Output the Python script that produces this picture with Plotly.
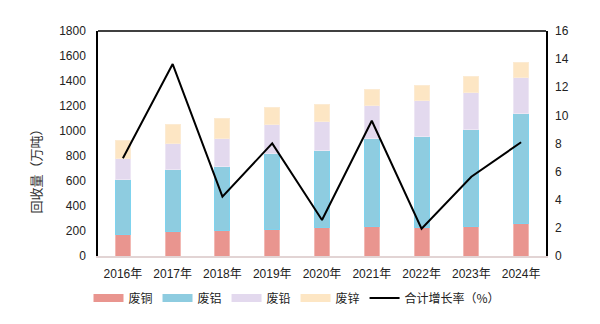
import plotly.graph_objects as go

years = ["2016年", "2017年", "2018年", "2019年", "2020年", "2021年", "2022年", "2023年", "2024年"]
copper = [173, 200, 203, 213, 227, 235, 227, 235, 259]
aluminum = [440, 493, 512, 608, 616, 704, 733, 781, 882]
lead = [168, 208, 224, 232, 232, 266, 283, 296, 288]
zinc = [141, 152, 160, 136, 141, 128, 122, 123, 123]
growth = [6.95, 13.65, 4.22, 8.01, 2.56, 9.62, 1.94, 5.64, 8.09]

series = [
    ("废铜", copper, "#E9958F", "#F2B8B3"),
    ("废铝", aluminum, "#8ECCE0", "#7FD3EE"),
    ("废铅", lead, "#E3D9EE", "#EDE6F4"),
    ("废锌", zinc, "#FDE6C4", "#FCEBD3"),
]

fig = go.Figure()
for name, vals, col, edge in series:
    fig.add_trace(go.Bar(
        x=years, y=vals, name=name, showlegend=False,
        marker=dict(color=col, line=dict(color=edge, width=1)),
        width=0.3,
    ))
# legend swatches (wide rectangles like the original)
for name, vals, col, edge in series:
    fig.add_trace(go.Scatter(
        x=[None], y=[None], name=name, mode="lines",
        line=dict(color=col, width=8),
    ))

fig.add_trace(go.Scatter(
    x=years, y=growth, name="合计增长率（%）", yaxis="y2",
    mode="lines", line=dict(color="black", width=2),
))

font_sans = "Liberation Sans, Arial, sans-serif"
fig.update_layout(
    barmode="stack",
    width=600, height=324,
    margin=dict(l=98, r=54, t=31, b=68, autoexpand=False),
    paper_bgcolor="white", plot_bgcolor="white",
    font=dict(family=font_sans, color="#222", size=12),
    showlegend=True,
    legend=dict(orientation="h", x=0.495, xanchor="center", xref="container",
                y=0.08, yanchor="middle", yref="container",
                font=dict(family="Noto Sans CJK SC", size=12, color="#222"),
                traceorder="normal", itemwidth=30, tracegroupgap=0),
    xaxis=dict(showline=True, linecolor="#E2D4D4", linewidth=1.5,
               ticks="", showgrid=False, ticklabelstandoff=6,
               tickfont=dict(family="Liberation Sans, Noto Sans CJK SC", size=12, color="#222")),
    yaxis=dict(range=[0, 1800], dtick=200, showgrid=False, showline=True,
               linecolor="black", linewidth=1.5, mirror=True, ticks="",
               ticklabelstandoff=8,
               tickfont=dict(size=12, color="#222")),
    yaxis2=dict(range=[0, 16], dtick=2, overlaying="y", side="right",
                showgrid=False, showline=False, ticks="", ticklabelstandoff=8,
                tickfont=dict(size=12, color="#222")),
    annotations=[dict(text="回收量（万吨）", textangle=-90, xref="paper", yref="paper",
                      x=-0.14, y=0.39, xanchor="center", yanchor="middle", showarrow=False,
                      font=dict(family="Noto Sans CJK SC", size=13, color="#333"))],
    shapes=[dict(type="line", xref="paper", yref="paper", x0=0, x1=1, y0=1, y1=1,
                 line=dict(color="black", width=1.5))],
)

fig.write_html("out.html")
